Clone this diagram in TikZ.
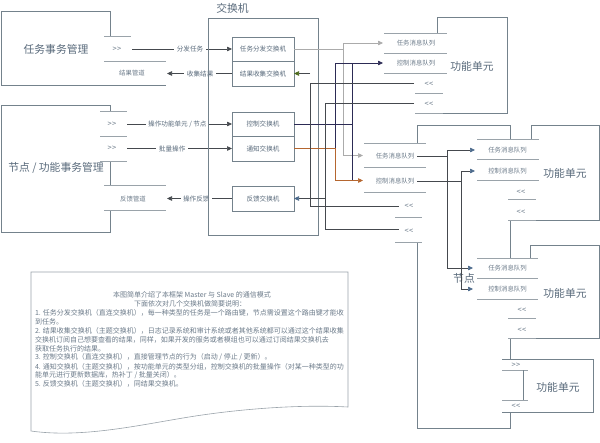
\documentclass[tikz,border=0pt]{standalone}
\usepackage{fontspec}
\setmainfont{Noto Sans CJK SC}
\usetikzlibrary{arrows.meta}
\definecolor{txt}{HTML}{5A6B7C}
\definecolor{ptc}{HTML}{6C7B8A}
\definecolor{edge}{HTML}{74828C}
\definecolor{port}{HTML}{9AA3AA}
\definecolor{wire}{HTML}{45494E}
\definecolor{gwire}{HTML}{ABABAB}
\definecolor{navy}{HTML}{2C2B55}
\definecolor{orng}{HTML}{B5662F}
\definecolor{grn}{HTML}{4E6B1E}
\definecolor{blu}{HTML}{4C6A8C}
\begin{document}
\begin{tikzpicture}[x=1pt,y=-1pt,
  every node/.style={inner sep=0pt, outer sep=0pt},
  big/.style={font=\fontsize{10.8}{12}\selectfont, text=txt},
  lbl/.style={font=\fontsize{6.6}{8}\selectfont, text=txt, fill=white, inner xsep=2.5pt, inner ysep=1pt},
  xbox/.style={draw=edge, line width=0.6pt, minimum width=62pt, font=\fontsize{6.6}{8}\selectfont, text=txt, fill=white},
  ptxt/.style={font=\fontsize{6.4}{8}\selectfont, text=ptc},
  chev/.style={font=\fontsize{7.5}{8}\selectfont, text=ptc},
  ntxt/.style={font=\fontsize{7}{8}\selectfont, text=ptc},
  frame/.style={draw=edge, line width=0.6pt},
  pline/.style={draw=port, line width=0.9pt},
  w/.style={draw=wire, line width=0.6pt},
  gw/.style={draw=gwire, line width=0.6pt},
  nw/.style={draw=navy, line width=0.6pt},
  ow/.style={draw=orng, line width=0.6pt},
  tip/.style={-{Triangle[length=5pt,width=4.5pt]}},
  btip/.style={-{Triangle[length=5pt,width=4.5pt,color=blu]}},
  gtip/.style={-{Triangle[length=5pt,width=4.5pt,color=grn]}},
]
\useasboundingbox (0,0) rectangle (600,442);
\fill[white] (0,0) rectangle (600,442);

% ---------- management boxes ----------
\draw[frame] (110,36) -- (110,11) -- (1,11) -- (1,85) -- (166,85);
\draw[pline] (104,36) -- (131,36);
\draw[pline] (104,61) -- (166,61);
\node[big] (t1) at (56,49) {任务事务管理};
\node[chev] (m1p) at (117,49) {>\kern0.3pt>};
\node[ptxt] (m1r) at (132,73) {结果管道};

\draw[frame] (110,111) -- (110,105) -- (1,105) -- (1,232) -- (110,232) -- (110,210);
\draw[frame] (110,161) -- (110,185);
\draw[pline] (100,111) -- (127,111);
\draw[pline] (100,136) -- (127,136);
\draw[pline] (100,161) -- (127,161);
\draw[pline] (104,185) -- (166,185);
\draw[pline] (104,210) -- (166,210);
\node[big] (t2) at (56,168) {节点 / 功能事务管理};
\node[chev] (m2p) at (112,124) {>\kern0.3pt>};
\node[chev] (m2q) at (112,148) {>\kern0.3pt>};
\node[ptxt] (m2r) at (133,199) {反馈管道};

% ---------- exchange ----------
\node[xbox, minimum height=24pt] (ex1) at (263,49) {任务分发交换机};
\node[xbox, minimum height=25pt] (ex2) at (263,73.5) {结果收集交换机};
\node[xbox, minimum height=24pt] (ex3) at (263,124) {控制交换机};
\node[xbox, minimum height=25pt] (ex4) at (263,148.5) {通知交换机};
\node[xbox, minimum height=25pt] (ex5) at (263,198.5) {反馈交换机};

\coordinate (m1o) at (132,49);
\coordinate (m1i) at (167,73.5);
\coordinate (m2a) at (127,124);
\coordinate (m2b) at (127,148.5);
\coordinate (m2c) at (167,198.5);
\draw[w,tip] (m1o) -- node[lbl,pos=0.58]{分发任务} (ex1.west);
\draw[w,tip] (ex2.west) -- node[lbl,pos=0.49]{收集结果} (m1i);
\draw[w,tip] (m2a) -- node[lbl,pos=0.48]{操作功能单元 / 节点} (ex3.west);
\draw[w,tip] (m2b) -- node[lbl,pos=0.43]{批量操作} (ex4.west);
\draw[w,tip] (ex5.west) -- node[lbl,pos=0.55]{操作反馈} (m2c);

\node[frame, minimum width=110pt, minimum height=217pt] (xch) at (263,126.5) {};
\node[big] (xl) at (232.5,8) {交换机};

% ---------- node (节点) box ----------
\fill[white] (417,125) rectangle (510,428);
\draw[frame] (417,143) -- (417,125) -- (510,125) -- (510,428) -- (417,428) -- (417,242);
\fill[white] (364,143) rectangle (426,192);
\fill[white] (395,192) rectangle (426,242);
\draw[pline] (364,143) -- (426,143);
\draw[pline] (364,167) -- (426,167);
\draw[pline] (364,192) -- (426,192);
\draw[pline] (395,217) -- (422,217);
\draw[pline] (395,242) -- (422,242);
\node[ptxt] (bT) at (395,156) {任务消息队列};
\node[ptxt] (bC) at (395,181) {控制消息队列};
\node[chev] (bR1t) at (409,206) {<\kern0.3pt<};
\node[chev] (bR2t) at (409,231) {<\kern0.3pt<};

% ---------- FU-A ----------
\fill[white] (437,17) rectangle (507,113);
\draw[frame] (437,33) -- (437,17) -- (507,17) -- (507,113) -- (415,113);
\fill[white] (384,33) rectangle (447,73);
\fill[white] (415,73) rectangle (443,113);
\draw[pline] (384,33) -- (447,33);
\draw[pline] (384,53) -- (447,53);
\draw[pline] (384,73) -- (447,73);
\draw[pline] (415,93) -- (443,93);
\draw[pline] (415,113) -- (443,113);
\node[ptxt] (aT) at (416,43) {任务消息队列};
\node[ptxt] (aC) at (416,63) {控制消息队列};
\node[chev] (aR1t) at (429,84) {<\kern0.3pt<};
\node[chev] (aR2t) at (429,104) {<\kern0.3pt<};
\node[big] (fa) at (472,66) {功能单元};

% ---------- FU-C ----------
\fill[white] (531,125) rectangle (599,220);
\draw[frame] (531,139) -- (531,125) -- (599,125) -- (599,220) -- (508,220);
\fill[white] (477,139) rectangle (539,180);
\fill[white] (508,180) rectangle (539,220);
\draw[pline] (477,139) -- (539,139);
\draw[pline] (477,159) -- (539,159);
\draw[pline] (477,180) -- (539,180);
\draw[pline] (508,199) -- (536,199);
\draw[pline] (508,220) -- (536,220);
\node[ptxt] (cT) at (507.5,150) {任务消息队列};
\node[ptxt] (cC) at (507.5,171) {控制消息队列};
\node[chev] (cR1t) at (521,192) {<\kern0.3pt<};
\node[chev] (cR2t) at (521,212) {<\kern0.3pt<};
\node[big] (fc) at (565,173) {功能单元};

% ---------- FU-E ----------
\fill[white] (530,245) rectangle (599,338);
\draw[frame] (530,258) -- (530,245) -- (599,245) -- (599,338) -- (508,338);
\fill[white] (477,258) rectangle (538,299);
\fill[white] (508,299) rectangle (538,338);
\draw[pline] (477,258) -- (538,258);
\draw[pline] (477,278) -- (538,278);
\draw[pline] (477,299) -- (538,299);
\draw[pline] (508,318) -- (536,318);
\draw[pline] (508,338) -- (536,338);
\node[ptxt] (eT) at (507.5,268) {任务消息队列};
\node[ptxt] (eC) at (507.5,289) {控制消息队列};
\node[chev] (eR1t) at (522,310) {<\kern0.3pt<};
\node[chev] (eR2t) at (522,330) {<\kern0.3pt<};
\node[big] (fe) at (565,293) {功能单元};
\node[big] (nd) at (464,278) {节点};

% ---------- FU-D ----------
\fill[white] (502,359) rectangle (593,412);
\draw[frame] (502,359) -- (593,359) -- (593,412) -- (502,412);
\draw[pline] (502,370) -- (528,370);
\draw[pline] (502,400) -- (528,400);
\draw[frame] (523,370) -- (523,400);
\node[chev] (dI) at (516,365) {>\kern0.3pt>};
\node[chev] (dO) at (516,406) {<\kern0.3pt<};
\node[big] (fd) at (558,387) {功能单元};

% ---------- wires ----------
\coordinate (gbus) at (343,0);
\coordinate (nbus) at (352,0);
\coordinate (obus) at (335,0);
\coordinate (rbus) at (310,0);
\coordinate (fbus) at (325.5,0);
\coordinate (aTin) at (383,43);
\coordinate (bTin) at (363,155.5);
\coordinate (aCin) at (383,63);
\coordinate (bCin) at (363,180.5);
\coordinate (aR1) at (414,83);
\coordinate (aR2) at (414,103);
\coordinate (bR1) at (399,206);
\coordinate (bR2) at (399,229.5);

\draw[gw,tip] (ex1.east) -| (gbus |- aTin) -- (aTin);
\draw[gw,tip] (gbus |- ex1.east) |- (bTin);
\draw[nw] (obus |- ex4.east) -- (obus |- aCin);
\draw[nw,tip] (ex3.east) -| (nbus |- aCin) -- (aCin);
\draw[nw] (obus |- aCin) -- (nbus |- aCin);
\draw[nw] (nbus |- ex3.east) -- (nbus |- bCin);
\draw[ow,tip] (ex4.east) -| (obus |- bCin) -- (bCin);

\draw[w] (aR1) -- (rbus |- aR1) -- (rbus |- bR1) -- (bR1);
\draw[w,gtip] (rbus |- ex2.east) -- (ex2.east);
\draw[w] (aR2) -- (fbus |- aR2) -- (fbus |- bR2) -- (bR2);
\draw[w,btip] (fbus |- ex5.east) -- (ex5.east);

\coordinate (cb1) at (447,0);
\coordinate (cb2) at (461,0);
\coordinate (cTin) at (475,150);
\coordinate (cCin) at (475,171);
\coordinate (eTin) at (473,268);
\coordinate (eCin) at (473,289);
\draw[w,btip] ([xshift=3pt]bT.east) -| (cb1 |- cTin) -- (cTin);
\draw[w,btip] (cb1 |- bT.east) |- (eTin);
\draw[w,btip] ([xshift=3pt]bC.east) -| (cb2 |- cCin) -- (cCin);
\draw[w,btip] (cb2 |- bC.east) |- (eCin);

% ---------- note ----------
\draw[draw=port, line width=0.6pt, fill=white] (31,272) -- (348,272) -- (348,407)
  .. controls (295,404) and (230,410) .. (183,418)
  .. controls (135,426) and (80,438) .. (31,431) -- cycle;
\node[ntxt] (n1) at (192,295) {本图简单介绍了本框架 Master 与 Slave 的通信模式};
\node[ntxt] (n2) at (190,303.5) {下面依次对几个交换机做简要说明：};
\node[ntxt, anchor=west] (n3) at (35,313) {1. 任务分发交换机（直连交换机），每一种类型的任务是一个路由键，节点需设置这个路由键才能收};
\node[ntxt, anchor=west] (n4) at (35,321.5) {到任务。};
\node[ntxt, anchor=west] (n5) at (35,331) {2. 结果收集交换机（主题交换机），日志记录系统和审计系统或者其他系统都可以通过这个结果收集};
\node[ntxt, anchor=west] (n6) at (35,340) {交换机订阅自己想要查看的结果，同样，如果开发的服务或者模组也可以通过订阅结果交换机去};
\node[ntxt, anchor=west] (n7) at (35,348.5) {获取任务执行的结果。};
\node[ntxt, anchor=west] (n8) at (35,357.5) {3. 控制交换机（直连交换机），直接管理节点的行为（启动 / 停止 / 更新）。};
\node[ntxt, anchor=west] (n9) at (35,366.5) {4. 通知交换机（主题交换机），按功能单元的类型分组，控制交换机的批量操作（对某一种类型的功};
\node[ntxt, anchor=west] (n10) at (35,375) {能单元进行更新数据库，热补丁 / 批量关闭）。};
\node[ntxt, anchor=west] (n11) at (35,383.5) {5. 反馈交换机（主题交换机），同结果交换机。};
\end{tikzpicture}
\end{document}
